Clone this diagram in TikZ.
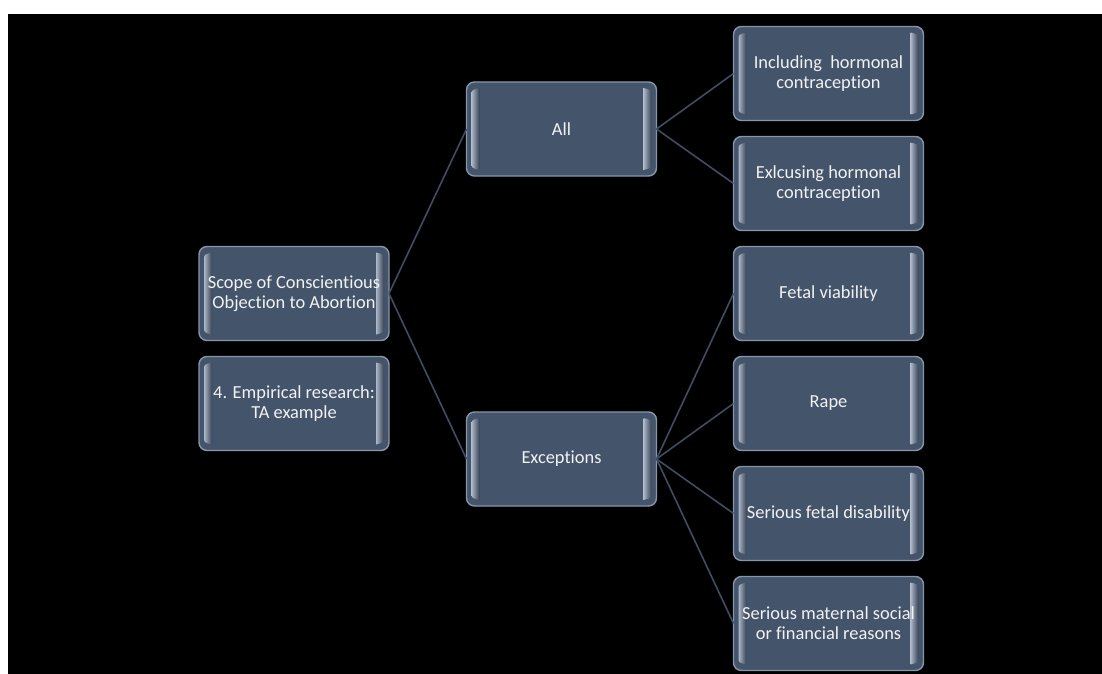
\documentclass[tikz,border=0pt]{standalone}
\usepackage{fontspec}
\setmainfont{Carlito}[Ligatures={NoCommon}]
\usetikzlibrary{calc}
\definecolor{boxfill}{HTML}{44546A}
\definecolor{boxedge}{HTML}{8896AB}
\definecolor{hilite}{HTML}{E2EAF4}
\definecolor{linkcol}{HTML}{3E4D63}
\definecolor{txtcol}{HTML}{F2F2F2}
\newcommand{\boxfont}{\fontsize{18.4}{20}\selectfont}
% bevel highlight strip along the inner left (#1=1) or right (#1=-1) edge
\newcommand{\bevelstrip}[3]{%
  \shade[left color=#2, middle color=hilite, right color=#3]
    ($(t)+(#1*5pt,-14pt)$) -- ($(b)+(#1*5pt,14pt)$)
    .. controls ($(b)+(#1*5pt,8pt)$) .. ($(b)+(#1*13pt,6pt)$)
    -- ($(b)+(#1*13pt,16pt)$) -- ($(t)+(#1*13pt,-16pt)$)
    -- ($(t)+(#1*13pt,-6pt)$)
    .. controls ($(t)+(#1*5pt,-8pt)$) .. ($(t)+(#1*5pt,-14pt)$) -- cycle;}
\tikzset{
  bevelbox/.style={
    rounded corners=8pt, fill=boxfill, draw=boxedge, line width=1.4pt,
    minimum width=190pt, minimum height=94pt, inner sep=0pt, outer sep=0pt,
    text=txtcol, align=center, font=\boxfont,
    path picture={
      \begin{scope}[sharp corners]
        \coordinate (t) at (path picture bounding box.north west);
        \coordinate (b) at (path picture bounding box.south west);
        \bevelstrip{1}{boxedge!60!hilite}{boxfill!80!black}
        \coordinate (t) at (path picture bounding box.north east);
        \coordinate (b) at (path picture bounding box.south east);
        \bevelstrip{-1}{boxedge!60!hilite}{boxfill!80!black}
      \end{scope}
    }},
  link/.style={draw=linkcol, line width=1.6pt}
}
\begin{document}
\begin{tikzpicture}[x=1pt,y=-1pt]
  \useasboundingbox (0,0) rectangle (1102,674);
  \fill[white] (0,0) rectangle (1102,674);
  \fill[black] (8,14) rectangle (1102,674);

  \node[bevelbox] (scope) at (294,293.5) {Scope of Conscientious\\Objection to Abortion};
  \node[bevelbox] (ta)    at (294,403.5) {4. Empirical research:\\TA example};
  \node[bevelbox] (all)   at (561.5,129) {All};
  \node[bevelbox] (exc)   at (561.5,459) {Exceptions};
  \node[bevelbox] (inc)   at (828.5,73.5) {Including~ hormonal\\contraception};
  \node[bevelbox] (exl)   at (828.5,183.5) {Exlcusing hormonal\\contraception};
  \node[bevelbox] (fv)    at (828.5,293.5) {Fetal viability};
  \node[bevelbox] (rape)  at (828.5,403.5) {Rape};
  \node[bevelbox] (sfd)   at (828.5,513.5) {Serious fetal disability};
  \node[bevelbox] (smf)   at (828.5,623.5) {Serious maternal social\\or financial reasons};

  \draw[link] (scope.east) -- (all.west);
  \draw[link] (scope.east) -- (exc.west);
  \draw[link] (all.east) -- (inc.west);
  \draw[link] (all.east) -- (exl.west);
  \foreach \t in {fv,rape,sfd,smf}
    \draw[link] (exc.east) -- (\t.west);
\end{tikzpicture}
\end{document}
